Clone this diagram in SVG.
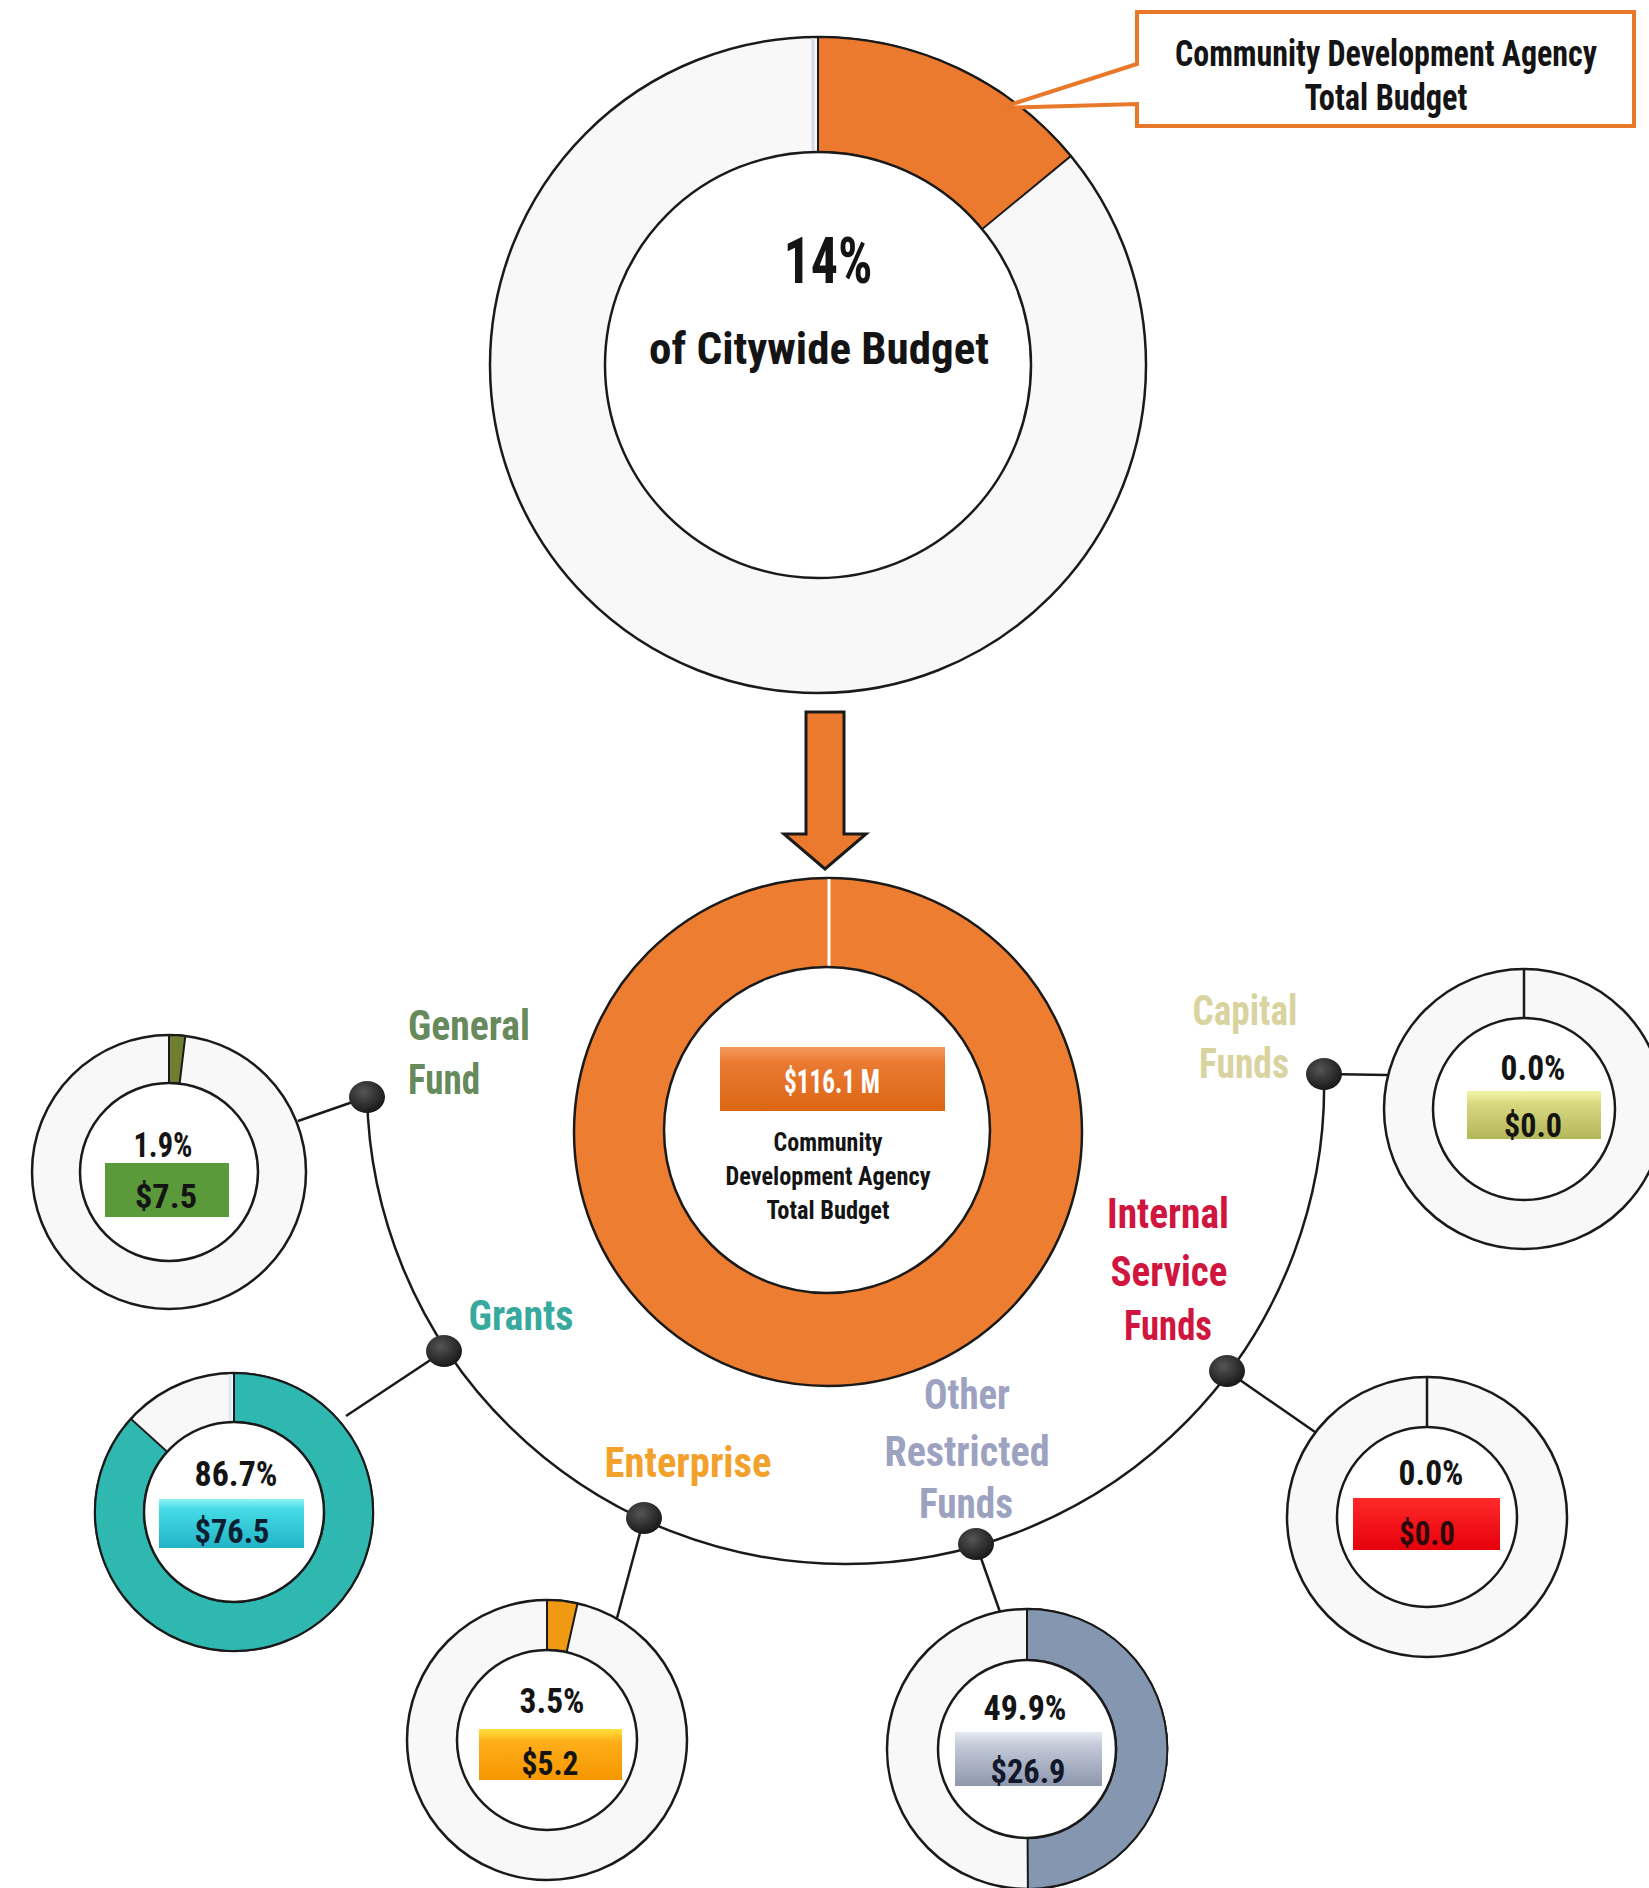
<svg xmlns="http://www.w3.org/2000/svg" width="1649" height="1888" viewBox="0 0 1649 1888">
<defs>
<style>
.t{font-family:"Liberation Sans Narrow","Roboto Condensed","DejaVu Sans Condensed","Liberation Sans",Arial,sans-serif;font-weight:bold;text-anchor:middle;fill:#141414}
.lbl{font-family:"Liberation Sans Narrow","Roboto Condensed","DejaVu Sans Condensed","Liberation Sans",Arial,sans-serif;font-weight:bold;font-size:42px;text-anchor:middle}
.pct{font-size:35px}
.val{font-size:33px}
.ring{fill:#f8f8f8;stroke:#1a1a1a;stroke-width:2.5}
.hole{fill:#ffffff;stroke:#1a1a1a;stroke-width:2.5}
.wedge{stroke:#1a1a1a;stroke-width:2}
.conn{fill:none;stroke:#1a1a1a;stroke-width:2.5}
.dot{fill:url(#gDot)}
</style>
<linearGradient id="gOrangeBox" x1="0" y1="0" x2="0" y2="1">
<stop offset="0" stop-color="#f39a5c"/><stop offset="0.25" stop-color="#ea7a32"/><stop offset="1" stop-color="#dc6614"/>
</linearGradient>
<linearGradient id="gCyan" x1="0" y1="0" x2="0" y2="1">
<stop offset="0" stop-color="#8ff4f6"/><stop offset="0.2" stop-color="#45dbe6"/><stop offset="1" stop-color="#22b3c6"/>
</linearGradient>
<linearGradient id="gAmber" x1="0" y1="0" x2="0" y2="1">
<stop offset="0" stop-color="#ffe03a"/><stop offset="0.25" stop-color="#ffae1a"/><stop offset="1" stop-color="#f59600"/>
</linearGradient>
<linearGradient id="gSilver" x1="0" y1="0" x2="0" y2="1">
<stop offset="0" stop-color="#e6e9f0"/><stop offset="0.25" stop-color="#c3c9d8"/><stop offset="1" stop-color="#8e97ad"/>
</linearGradient>
<linearGradient id="gRed" x1="0" y1="0" x2="0" y2="1">
<stop offset="0" stop-color="#ff2a2a"/><stop offset="1" stop-color="#e6000c"/>
</linearGradient>
<linearGradient id="gOlive" x1="0" y1="0" x2="0" y2="1">
<stop offset="0" stop-color="#f4f4a8"/><stop offset="0.3" stop-color="#d6d67e"/><stop offset="1" stop-color="#b4b65a"/>
</linearGradient>
<radialGradient id="gDot" cx="0.4" cy="0.35" r="0.7">
<stop offset="0" stop-color="#555555"/><stop offset="1" stop-color="#141414"/>
</radialGradient>
</defs>
<rect width="1649" height="1888" fill="#ffffff"/>

<g id="citywide-donut">
<circle class="ring" cx="818" cy="365" r="328"/>
<line x1="813" y1="38" x2="813" y2="152" stroke="#d4dae2" stroke-width="3"/>
<path class="wedge" fill="#ec7a2e" d="M818,37 A328,328 0 0 1 1070.8,156 L982.1,229.2 A213,213 0 0 0 818,152 Z"/>
<circle class="hole" cx="818" cy="365" r="213"/>
<text class="t" x="828" y="283" font-size="64" textLength="89" lengthAdjust="spacingAndGlyphs">14%</text>
<text class="t" x="819" y="364" font-size="44" textLength="340" lengthAdjust="spacingAndGlyphs">of Citywide Budget</text>
</g>

<g id="callout">
<path d="M1137,12 H1634 V126 H1137 V104 L1000,108 L1137,64 Z" fill="#ffffff" stroke="#e8782a" stroke-width="4" stroke-linejoin="miter"/>
<text class="t" x="1386" y="66" font-size="36" textLength="422" lengthAdjust="spacingAndGlyphs">Community Development Agency</text>
<text class="t" x="1386" y="110" font-size="36" textLength="163" lengthAdjust="spacingAndGlyphs">Total Budget</text>
</g>

<g id="down-arrow">
<path d="M806,712 H844 V834 H866 L825,869 L784,834 H806 Z" fill="#ec7a2e" stroke="#1a1a1a" stroke-width="3" stroke-linejoin="miter"/>
</g>

<g id="agency-donut">
<circle cx="828" cy="1132" r="254" fill="#ed7d31" stroke="#1a1a1a" stroke-width="2.5"/>
<line x1="829" y1="879" x2="829" y2="969" stroke="#ffffff" stroke-width="3"/>
<circle class="hole" cx="827" cy="1130" r="163"/>
<rect x="720" y="1047" width="225" height="64" fill="url(#gOrangeBox)"/>
<text class="t" x="832" y="1093" font-size="34" style="fill:#ffffff" textLength="96" lengthAdjust="spacingAndGlyphs">$116.1 M</text>
<text class="t" x="828" y="1151" font-size="26" textLength="109" lengthAdjust="spacingAndGlyphs">Community</text>
<text class="t" x="828" y="1185" font-size="26" textLength="205" lengthAdjust="spacingAndGlyphs">Development Agency</text>
<text class="t" x="828" y="1219" font-size="26" textLength="123" lengthAdjust="spacingAndGlyphs">Total Budget</text>
</g>

<g id="connectors">
<path class="conn" d="M367,1095 A478,478 0 0 0 845,1564 A478,478 0 0 0 1324,1074"/>
<line class="conn" x1="367" y1="1097" x2="298" y2="1121"/>
<line class="conn" x1="444" y1="1351" x2="346" y2="1416"/>
<line class="conn" x1="644" y1="1518" x2="617" y2="1618"/>
<line class="conn" x1="976" y1="1544" x2="1000" y2="1612"/>
<line class="conn" x1="1227" y1="1371" x2="1315" y2="1432"/>
<line class="conn" x1="1324" y1="1074" x2="1388" y2="1075"/>
<ellipse class="dot" cx="367" cy="1097" rx="18" ry="16"/>
<ellipse class="dot" cx="444" cy="1351" rx="18" ry="16"/>
<ellipse class="dot" cx="644" cy="1518" rx="18" ry="16"/>
<ellipse class="dot" cx="976" cy="1544" rx="18" ry="16"/>
<ellipse class="dot" cx="1227" cy="1371" rx="18" ry="16"/>
<ellipse class="dot" cx="1324" cy="1074" rx="18" ry="16"/>
</g>

<g id="labels">
<g id="label-general-fund" fill="#668a5c">
<text class="lbl" x="469" y="1040" textLength="122" lengthAdjust="spacingAndGlyphs">General</text>
<text class="lbl" x="444" y="1094" textLength="72" lengthAdjust="spacingAndGlyphs">Fund</text>
</g>
<g id="label-grants" fill="#38a99e">
<text class="lbl" x="521" y="1330" textLength="105" lengthAdjust="spacingAndGlyphs">Grants</text>
</g>
<g id="label-enterprise" fill="#f2a22c">
<text class="lbl" x="688" y="1477" textLength="167" lengthAdjust="spacingAndGlyphs">Enterprise</text>
</g>
<g id="label-other-restricted" fill="#9ca2c0">
<text class="lbl" x="967" y="1409" textLength="86" lengthAdjust="spacingAndGlyphs">Other</text>
<text class="lbl" x="967" y="1466" textLength="165" lengthAdjust="spacingAndGlyphs">Restricted</text>
<text class="lbl" x="966" y="1518" textLength="94" lengthAdjust="spacingAndGlyphs">Funds</text>
</g>
<g id="label-internal-service" fill="#d0163e">
<text class="lbl" x="1168" y="1228" textLength="122" lengthAdjust="spacingAndGlyphs">Internal</text>
<text class="lbl" x="1169" y="1286" textLength="117" lengthAdjust="spacingAndGlyphs">Service</text>
<text class="lbl" x="1168" y="1340" textLength="88" lengthAdjust="spacingAndGlyphs">Funds</text>
</g>
<g id="label-capital" fill="#d9d3a0">
<text class="lbl" x="1245" y="1025" textLength="105" lengthAdjust="spacingAndGlyphs">Capital</text>
<text class="lbl" x="1244" y="1078" textLength="90" lengthAdjust="spacingAndGlyphs">Funds</text>
</g>
</g>

<g id="general-fund">
<circle class="ring" cx="169" cy="1172" r="137"/>
<path class="wedge" fill="#6e7f32" d="M169,1035 A137,137 0 0 1 185.3,1036 L179.6,1083.6 A89,89 0 0 0 169,1083 Z"/>
<circle class="hole" cx="169" cy="1172" r="89"/>
<text class="t pct" x="163" y="1157" textLength="59" lengthAdjust="spacingAndGlyphs">1.9%</text>
<rect x="105" y="1163" width="124" height="54" fill="#5b9a3b"/>
<text class="t val" x="166" y="1208" textLength="62" lengthAdjust="spacingAndGlyphs">$7.5</text>
</g>

<g id="grants">
<circle class="ring" cx="234" cy="1512" r="139"/>
<path class="wedge" fill="#2fb8b0" d="M234,1373 A139,139 0 1 1 130.9,1418.8 L167.2,1451.7 A90,90 0 1 0 234,1422 Z"/>
<line x1="230" y1="1374" x2="230" y2="1422" stroke="#dde8f2" stroke-width="3"/>
<circle class="hole" cx="234" cy="1512" r="90"/>
<text class="t pct" x="236" y="1486" textLength="83" lengthAdjust="spacingAndGlyphs">86.7%</text>
<rect x="159" y="1499" width="145" height="49" fill="url(#gCyan)"/>
<text class="t val" x="232" y="1543" style="fill:#0d1e30" textLength="75" lengthAdjust="spacingAndGlyphs">$76.5</text>
</g>

<g id="enterprise">
<circle class="ring" cx="547" cy="1740" r="140"/>
<path class="wedge" fill="#f09a14" d="M547,1600 A140,140 0 0 1 577.5,1603.4 L566.6,1652.2 A90,90 0 0 0 547,1650 Z"/>
<circle class="hole" cx="547" cy="1740" r="90"/>
<text class="t pct" x="552" y="1713" textLength="65" lengthAdjust="spacingAndGlyphs">3.5%</text>
<rect x="479" y="1729" width="143" height="51" fill="url(#gAmber)"/>
<text class="t val" x="550" y="1775" textLength="57" lengthAdjust="spacingAndGlyphs">$5.2</text>
</g>

<g id="other-restricted-funds">
<circle class="ring" cx="1027" cy="1749" r="140"/>
<path class="wedge" fill="#8597b0" d="M1027,1609 A140,140 0 0 1 1027.9,1889 L1027.6,1838 A89,89 0 0 0 1027,1660 Z"/>
<circle class="hole" cx="1027" cy="1749" r="89"/>
<text class="t pct" x="1025" y="1720" textLength="83" lengthAdjust="spacingAndGlyphs">49.9%</text>
<rect x="955" y="1732" width="147" height="54" fill="url(#gSilver)"/>
<text class="t val" x="1028" y="1783" style="fill:#10182a" textLength="75" lengthAdjust="spacingAndGlyphs">$26.9</text>
</g>

<g id="internal-service-funds">
<circle class="ring" cx="1427" cy="1517" r="140"/>
<line x1="1427" y1="1377" x2="1427" y2="1427" stroke="#1a1a1a" stroke-width="2.5"/>
<circle class="hole" cx="1427" cy="1517" r="90"/>
<text class="t pct" x="1431" y="1485" textLength="65" lengthAdjust="spacingAndGlyphs">0.0%</text>
<rect x="1353" y="1498" width="147" height="52" fill="url(#gRed)"/>
<text class="t val" x="1427" y="1545" style="fill:#2a0a0a" textLength="56" lengthAdjust="spacingAndGlyphs">$0.0</text>
</g>

<g id="capital-funds">
<circle class="ring" cx="1524" cy="1109" r="140"/>
<line x1="1524" y1="969" x2="1524" y2="1018" stroke="#1a1a1a" stroke-width="2.5"/>
<circle class="hole" cx="1524" cy="1109" r="91"/>
<text class="t pct" x="1533" y="1080" textLength="65" lengthAdjust="spacingAndGlyphs">0.0%</text>
<rect x="1467" y="1091" width="134" height="48" fill="url(#gOlive)"/>
<text class="t val" x="1533" y="1137" textLength="58" lengthAdjust="spacingAndGlyphs">$0.0</text>
</g>
</svg>
